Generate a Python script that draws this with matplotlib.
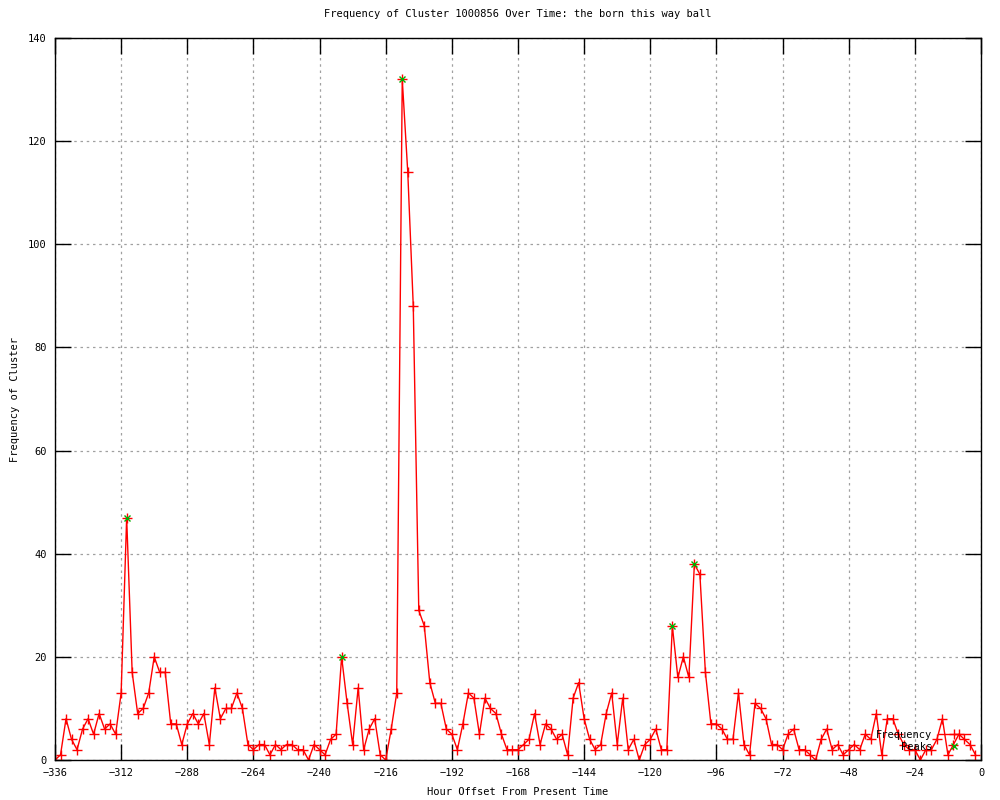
import matplotlib
matplotlib.use('Agg')
import matplotlib.pyplot as plt

# Данные: смещение в часах и частота кластера
hours = list(range(-336, 0, 2))
freq = [0, 1, 8, 4, 2, 6, 8, 5, 9, 6, 7, 5, 13, 47, 17, 9, 10, 13, 20, 17,
        17, 7, 7, 3, 7, 9, 7, 9, 3, 14, 8, 10, 10, 13, 10, 3, 2, 3, 3, 1,
        3, 2, 3, 3, 2, 2, 0, 3, 2, 1, 4, 5, 20, 11, 3, 14, 2, 6, 8, 1,
        0, 6, 13, 132, 114, 88, 29, 26, 15, 11, 11, 6, 5, 2, 7, 13, 12, 5, 12, 10,
        9, 5, 2, 2, 2, 3, 4, 9, 3, 7, 6, 4, 5, 1, 12, 15, 8, 4, 2, 3,
        9, 13, 3, 12, 2, 4, 0, 3, 4, 6, 2, 2, 26, 16, 20, 16, 38, 36, 17, 7,
        7, 6, 4, 4, 13, 3, 1, 11, 10, 8, 3, 3, 2, 5, 6, 2, 2, 1, 0, 4,
        6, 2, 3, 1, 2, 3, 2, 5, 4, 9, 1, 8, 8, 5, 3, 2, 2, 0, 2, 2,
        4, 8, 1, 3, 5, 4, 3, 1]

# Пики
peak_hours = [-310, -232, -210, -112, -104]
peak_freq = [47, 20, 132, 26, 38]

plt.rcParams['font.family'] = ['DejaVu Sans Mono']
plt.rcParams['font.size'] = 7.5

fig = plt.figure(figsize=(10, 8), dpi=100)
ax = fig.add_axes([0.055, 0.05, 0.926, 0.9025])

ax.plot(hours, freq, color='red', linewidth=1, marker='+', markersize=7,
        markeredgewidth=1, label='Frequency')
ax.plot(peak_hours, peak_freq, linestyle='none', color='#00b000', marker='x',
        markersize=5, markeredgewidth=1, label='Peaks')

ax.set_xlim(-336, 0)
ax.set_ylim(0, 140)
ax.set_xticks(range(-336, 1, 24))
ax.set_yticks(range(0, 141, 20))

ax.grid(True, color='#a0a0a0', linestyle=(0, (2, 3)), linewidth=0.9)
ax.set_axisbelow(True)
ax.tick_params(direction='in', length=11.5, width=1, top=True, right=True,
               labelsize=7.5, pad=6)
for s in ax.spines.values():
    s.set_linewidth(1)

ax.set_title('Frequency of Cluster 1000856 Over Time: the born this way ball',
             fontsize=7.5, pad=15)
ax.set_xlabel('Hour Offset From Present Time', fontsize=7.5, labelpad=6)
ax.set_ylabel('Frequency of Cluster', fontsize=7.5, labelpad=6)

ax.legend(loc='lower right', bbox_to_anchor=(0.997, 0.0), frameon=False,
          markerfirst=False, handlelength=3.0, handletextpad=0.6,
          labelspacing=0.2, borderpad=0.3, fontsize=7.5)

plt.savefig('out.png')
plt.close()
